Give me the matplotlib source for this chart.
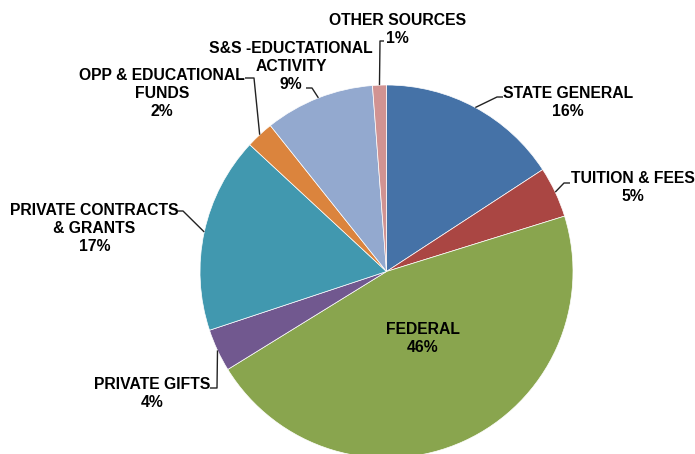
import matplotlib
matplotlib.use("Agg")
import matplotlib.pyplot as plt
import numpy as np

categories = ["STATE GENERAL", "TUITION & FEES", "FEDERAL", "PRIVATE GIFTS",
              "PRIVATE CONTRACTS\n& GRANTS", "OPP & EDUCATIONAL\nFUNDS",
              "S&S -EDUCTATIONAL\nACTIVITY", "OTHER SOURCES"]
values = [15.8, 4.4, 46.0, 3.7, 17.0, 2.4, 9.5, 1.2]
pct_labels = ["16%", "5%", "46%", "4%", "17%", "2%", "9%", "1%"]
colors = ["#4572A7", "#AA4643", "#89A54E", "#71588F", "#4198AF", "#DB843D", "#93A9CF", "#D19392"]

W, H = 695, 454
plt.rcParams['font.family'] = ['Liberation Sans', 'DejaVu Sans']

fig = plt.figure(figsize=(W / 100, H / 100), dpi=100)
ax = fig.add_axes([0, 0, 1, 1])

cx, cy, R = 386.5, H - 271.5, 186.5
wedges, _ = ax.pie(values, colors=colors, startangle=90, counterclock=False,
                   center=(cx, cy), radius=R, frame=True,
                   wedgeprops=dict(edgecolor='white', linewidth=0.5))
ax.set_xlim(0, W)
ax.set_ylim(0, H)
ax.set_aspect('equal')
ax.axis('off')

# label layout (pixel coords from top-left): text centre, leader start, leader kink
layout = [
    ((568, 101.5), (503, 97), (497, 97)),
    ((633, 187), (570, 183), (564, 183)),
    ((423, 337.5), None, None),
    ((152.5, 392.5), (210, 388), (217, 388)),
    ((94.5, 228), (178, 211), (183, 211)),
    ((162, 93), (245, 78), (254, 78)),
    ((291, 66), (306, 88), (312, 88)),
    ((397.5, 28.5), (384, 41), (380, 41)),
]

LS = 17.8   # line step in px
CAP = 10.5  # cap height in px

for w, cat, pct, (tc, st, kk) in zip(wedges, categories, pct_labels, layout):
    lines = (cat + "\n" + pct).split("\n")
    n = len(lines)
    for i, line in enumerate(lines):
        yb = tc[1] - (n - 1) * LS / 2 + i * LS + CAP / 2
        ax.text(tc[0], H - yb, line, ha='center', va='baseline',
                fontsize=11.3, fontweight='bold', color='black')
    if st is not None:
        mid = np.deg2rad((w.theta1 + w.theta2) / 2)
        ex, ey = cx + R * np.cos(mid), cy + R * np.sin(mid)
        ax.plot([st[0], kk[0], ex], [H - st[1], H - kk[1], ey],
                color='#222222', lw=1.0, solid_capstyle='butt')

fig.savefig("out.png", dpi=100)
